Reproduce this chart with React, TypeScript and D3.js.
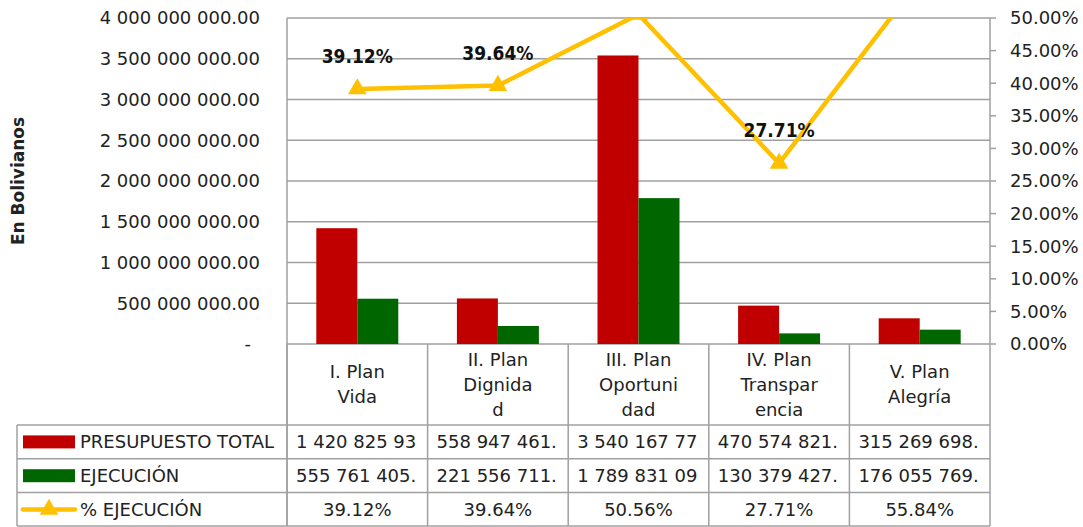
import React from "react";
import * as d3 from "d3";

const categories = ["I. Plan Vida", "II. Plan Dignidad", "III. Plan Oportunidad", "IV. Plan Transparencia", "V. Plan Alegría"];
const categoryLines = [
  ["I. Plan", "Vida"],
  ["II. Plan", "Dignida", "d"],
  ["III. Plan", "Oportuni", "dad"],
  ["IV. Plan", "Transpar", "encia"],
  ["V. Plan", "Alegría"],
];
const presupuesto = [1420825930, 558947461, 3540167770, 470574821, 315269698];
const ejecucion = [555761405, 221556711, 1789831090, 130379427, 176055769];
const pctEjecucion = [39.12, 39.64, 50.56, 27.71, 55.84];
const leftTicks = [0, 5e8, 1e9, 1.5e9, 2e9, 2.5e9, 3e9, 3.5e9, 4e9];
const rightTicks = [0, 5, 10, 15, 20, 25, 30, 35, 40, 45, 50];
const seriesNames = ["PRESUPUESTO TOTAL", "EJECUCIÓN", "% EJECUCIÓN"];

const RED = "#C00000";
const GREEN = "#006600";
const YELLOW = "#FFC000";
const GRID = "#a0a0a0";
const FONT = "'DejaVu Sans', sans-serif";

const W = 1083, H = 527;
const m = { left: 287, right: 990, top: 18, bottom: 344 };
const headerBottom = 425;
const rowH = 33.8;
const tableLeft = 17;

const loc = d3.formatLocale({ decimal: ".", thousands: " ", grouping: [3], currency: ["", ""] });
const money = loc.format(",.2f");

export default function App() {
  const x = d3.scaleBand().domain(categories).range([m.left, m.right]);
  const sub = d3.scaleBand().domain(["p", "e"]).range([0, x.bandwidth()]).paddingOuter(0.715);
  const yL = d3.scaleLinear().domain([0, 4e9]).range([m.bottom, m.top]);
  const yR = d3.scaleLinear().domain([0, 50]).range([m.bottom, m.top]);
  const cx = (c: string) => x(c)! + x.bandwidth() / 2;

  const line = d3.line<number>().x((_, i) => cx(categories[i])).y(d => yR(d));
  const tri = d3.symbol(d3.symbolTriangle, 150)();

  const rowsY = [0, 1, 2].map(i => headerBottom + i * rowH);
  const cellText = [
    presupuesto.map(v => money(v).slice(0, 12)),
    ejecucion.map(v => money(v).slice(0, 12)),
    pctEjecucion.map(v => v.toFixed(2) + "%"),
  ];

  return (
    <svg width={W} height={H} style={{ position: "absolute", left: 0, top: 0, background: "#fff" }} fontFamily={FONT}>
      <defs>
        <clipPath id="plotClip">
          <rect x={m.left} y={m.top} width={m.right - m.left} height={m.bottom - m.top} />
        </clipPath>
      </defs>

      {/* gridlines */}
      {leftTicks.map(t => (
        <line key={t} x1={m.left} x2={m.right} y1={yL(t)} y2={yL(t)} stroke={GRID} strokeWidth={1.5} />
      ))}
      {/* right axis ticks */}
      {rightTicks.map(t => (
        <line key={t} x1={m.right} x2={m.right + 6} y1={yR(t)} y2={yR(t)} stroke={GRID} strokeWidth={1.5} />
      ))}

      {/* left axis labels */}
      {leftTicks.map(t => (
        <text key={t} x={t === 0 ? 251 : 260} y={yL(t)} dy="0.36em" textAnchor="end" fontSize={18} fill="#222">
          {t === 0 ? "-" : money(t)}
        </text>
      ))}
      {rightTicks.map(t => (
        <text key={t} x={1010} y={yR(t)} dy="0.36em" textAnchor="start" fontSize={18} fill="#222">
          {t.toFixed(2) + "%"}
        </text>
      ))}
      <text transform={`translate(24,${(m.top + m.bottom) / 2}) rotate(-90)`} textAnchor="middle" fontSize={17} fontWeight="bold" fill="#222">
        En Bolivianos
      </text>

      {/* bars */}
      {categories.map((c, i) => (
        <g key={c}>
          <rect x={x(c)! + sub("p")!} y={yL(presupuesto[i])} width={sub.bandwidth()} height={m.bottom - yL(presupuesto[i])} fill={RED} />
          <rect x={x(c)! + sub("e")!} y={yL(ejecucion[i])} width={sub.bandwidth()} height={m.bottom - yL(ejecucion[i])} fill={GREEN} />
        </g>
      ))}

      {/* line */}
      <g clipPath="url(#plotClip)">
        <path d={line(pctEjecucion)!} fill="none" stroke={YELLOW} strokeWidth={4.5} strokeLinejoin="round" />
        {pctEjecucion.map((v, i) => (
          <path key={i} d={tri!} transform={`translate(${cx(categories[i])},${yR(v)})`} fill={YELLOW} />
        ))}
      </g>
      {pctEjecucion.map((v, i) =>
        v <= 50 ? (
          <text key={i} x={cx(categories[i])} y={yR(v) - 26} textAnchor="middle" fontSize={19} fontWeight="bold"
            fontFamily="'DejaVu Sans Condensed', 'Liberation Sans Narrow', 'DejaVu Sans', sans-serif" style={{ fontStretch: "condensed" }} fill="#111">
            {v.toFixed(2) + "%"}
          </text>
        ) : null
      )}

      {/* axes lines */}
      <line x1={m.left} x2={m.left} y1={m.top} y2={H - 1} stroke={GRID} strokeWidth={1.5} />
      <line x1={m.right} x2={m.right} y1={m.top} y2={H - 1} stroke={GRID} strokeWidth={1.5} />

      {/* data table */}
      {categories.map((c, i) => (
        <line key={c} x1={x(c)!} x2={x(c)!} y1={m.bottom} y2={H - 1} stroke={GRID} strokeWidth={1.5} />
      ))}
      <line x1={tableLeft} x2={tableLeft} y1={headerBottom} y2={H - 1} stroke={GRID} strokeWidth={1.5} />
      {[...rowsY, H - 1].map((yy, i) => (
        <line key={i} x1={tableLeft} x2={m.right} y1={yy} y2={yy} stroke={GRID} strokeWidth={1.5} />
      ))}

      {categoryLines.map((lines, i) => {
        const mid = (m.bottom + headerBottom) / 2;
        return lines.map((s, j) => (
          <text key={`${i}-${j}`} x={cx(categories[i])} y={mid + (j - (lines.length - 1) / 2) * 25} dy="0.36em" textAnchor="middle" fontSize={18} fill="#222">
            {s}
          </text>
        ));
      })}

      {seriesNames.map((s, r) => {
        const yc = rowsY[r] + rowH / 2;
        return (
          <g key={s}>
            {r < 2 ? (
              <rect x={23} y={yc - 6.5} width={52} height={13} fill={r === 0 ? RED : GREEN} />
            ) : (
              <g>
                <line x1={23} x2={75} y1={yc} y2={yc} stroke={YELLOW} strokeWidth={4.5} strokeLinecap="round" />
                <path d={tri!} transform={`translate(49,${yc})`} fill={YELLOW} />
              </g>
            )}
            <text x={80} y={yc} dy="0.36em" fontSize={18} fill="#222">{s}</text>
          </g>
        );
      })}

      {cellText.map((row, r) =>
        row.map((s, i) => {
          const yc = rowsY[r] + rowH / 2;
          return r < 2 ? (
            <text key={`${r}-${i}`} x={x(categories[i])! + 9} y={yc} dy="0.36em" fontSize={18} fill="#222">{s}</text>
          ) : (
            <text key={`${r}-${i}`} x={cx(categories[i])} y={yc} dy="0.36em" textAnchor="middle" fontSize={18} fill="#222">{s}</text>
          );
        })
      )}
    </svg>
  );
}
